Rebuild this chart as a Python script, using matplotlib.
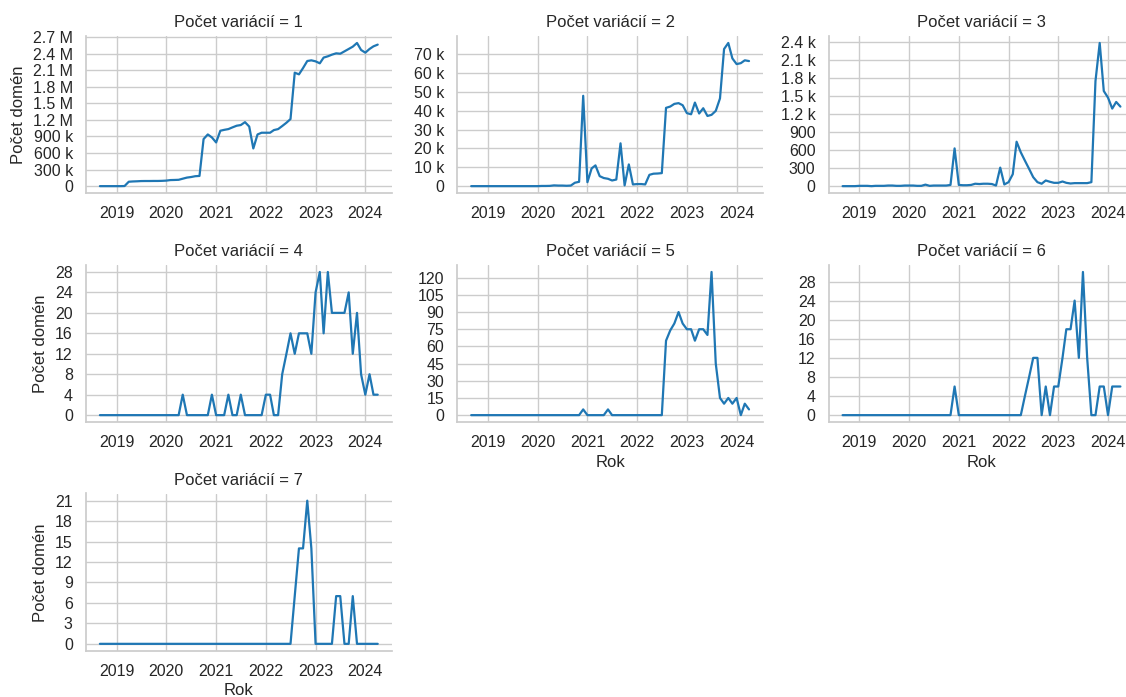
"""
Počet domén podle počtu variací v čase (mřížka 3x3, 7 panelů).
"""
import pandas as pd
import matplotlib
matplotlib.use("Agg")
import matplotlib.pyplot as plt
import matplotlib.dates as mdates
from matplotlib.ticker import EngFormatter, MultipleLocator
import seaborn as sns

# months Sep 2018 .. Apr 2024
months = pd.date_range("2018-09-01", "2024-04-01", freq="MS")

variations = [1, 2, 3, 4, 5, 6, 7]

domains_1 = [0, 0, 0, 0, 0, 0, 2000,
             80000, 85000, 88000, 92000, 93000, 93000, 94000, 94000, 96000,
             100000, 110000, 112000, 115000, 135000, 155000, 165000, 180000, 185000,
             853000, 937000, 883000, 792000, 1004000, 1020000, 1034000, 1065000,
             1095000, 1107000, 1160000, 1080000, 683000, 937000, 968000, 968000,
             968000, 1016000, 1034000, 1089000, 1149000, 1216000, 2056000, 2026000,
             2140000, 2268000, 2280000, 2262000, 2226000, 2330000, 2353000, 2383000,
             2407000, 2400000, 2443000, 2486000, 2528000, 2595000, 2468000, 2419000,
             2486000, 2534000, 2565000]

domains_2 = [0] * 17 + [100, 100, 150, 400, 300, 300, 200, 300,
             1800, 2300, 47900, 2100, 9400, 11000, 5300, 4300, 3900, 3000, 3500,
             22700, 400, 11500, 900, 1100, 1100, 900, 6000, 6600, 6700, 6900,
             41500, 42200, 43600, 44000, 42900, 38700, 38100, 44300, 38500, 41300,
             37200, 37800, 39900, 46500, 72700, 75900, 67700, 64700, 65200, 66700,
             66300]

domains_3 = [0, 0, 0, 0, 5, 5, 5, 0, 5, 5, 5, 10, 10, 5, 5, 10, 10, 10, 5, 5,
             25, 5, 10, 10, 10, 10, 20, 627, 20, 15, 15, 20, 40, 35, 40, 40, 35,
             10, 308, 28, 66, 198, 738, 561, 424, 286, 149, 66, 40, 94, 72, 55,
             55, 77, 55, 44, 50, 50, 50, 50, 66, 1745, 2378, 1580, 1470, 1288,
             1398, 1321]

domains_4 = [0] * 20 + [4] + [0] * 6 + [4] + [0] * 3 + [4, 0, 0, 4] + [0] * 5 + \
            [4, 4, 0, 0, 8, 12, 16, 12, 16, 16, 16, 12, 24, 28, 16, 28, 20, 20,
             20, 20, 24, 12, 20, 8, 4, 8, 4, 4]

domains_5 = [0] * 27 + [5] + [0] * 5 + [5] + [0] * 13 + \
            [65, 74, 80, 90, 80, 75, 75, 65, 75, 75, 70, 125, 45, 15, 10, 15,
             10, 15, 0, 10, 5]

domains_6 = [0] * 27 + [6] + [0] * 16 + \
            [4, 8, 12, 12, 0, 6, 0, 6, 6, 12, 18, 18, 24, 12, 30, 12, 0, 0, 6,
             6, 0, 6, 6, 6]

domains_7 = [0] * 47 + [7, 14, 14, 21, 14] + [0] * 5 + [7, 7, 0, 0, 7] + [0] * 6

series = [domains_1, domains_2, domains_3, domains_4, domains_5, domains_6, domains_7]
y_steps = [300000, 10000, 300, 4, 15, 4, 3]

sns.set_theme(style="whitegrid")
plt.rcParams["font.family"] = ["Liberation Sans", "DejaVu Sans"]

W, H = 1126, 697
fig = plt.figure(figsize=(W / 100, H / 100), dpi=100)

lefts = [86, 457.3, 828.7]
bottoms = [193.3, 422.3, 651]
ax_w, ax_h = 305.6, 157.5

for k, (n, vals, step) in enumerate(zip(variations, series, y_steps)):
    row, col = divmod(k, 3)
    ax = fig.add_axes([lefts[col] / W, 1 - bottoms[row] / H, ax_w / W, ax_h / H])
    ax.plot(months, vals, color="#1f77b4", lw=1.6)
    ax.set_title(f"Počet variácií = {n}", fontsize=12)
    ax.yaxis.set_major_locator(MultipleLocator(step))
    ax.yaxis.set_major_formatter(EngFormatter(sep=" "))
    ax.xaxis.set_major_locator(mdates.YearLocator())
    ax.xaxis.set_major_formatter(mdates.DateFormatter("%Y"))
    ax.tick_params(labelsize=11.5)
    for s in ("top", "right"):
        ax.spines[s].set_visible(False)
    if col == 0:
        ax.set_ylabel("Počet domén", fontsize=12, labelpad=5)
    if k >= 4:
        ax.set_xlabel("Rok", fontsize=12, labelpad=3)

fig.savefig("out.png", dpi=100)
